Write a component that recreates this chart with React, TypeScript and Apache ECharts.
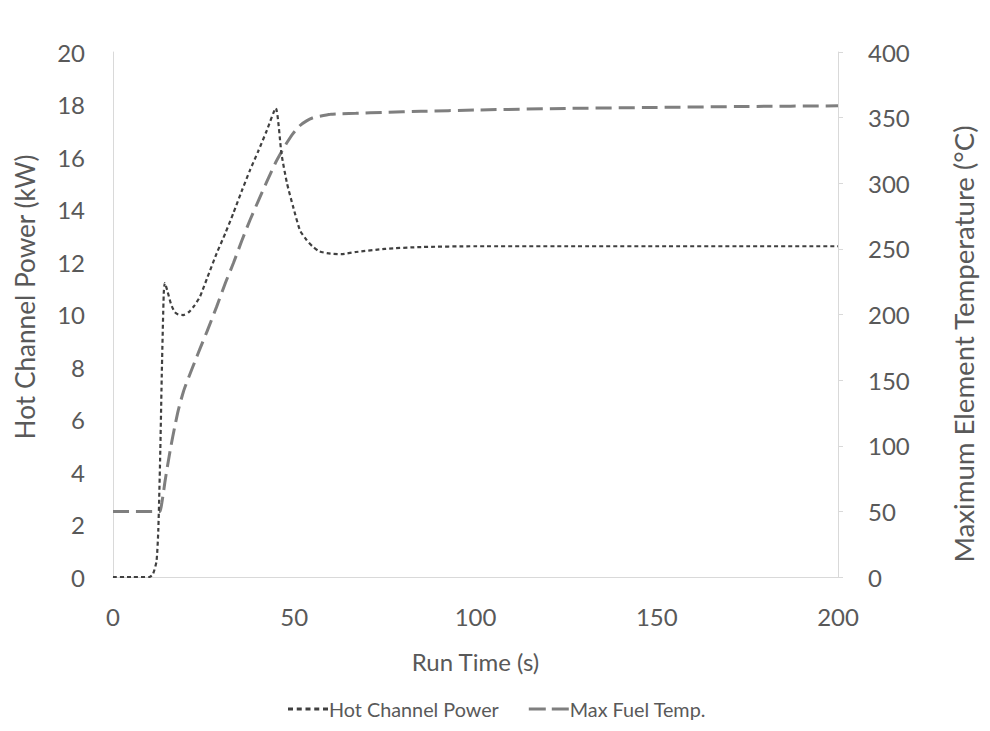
import React, { useEffect, useRef } from "react";
import * as echarts from "echarts";

const runTime = [0, 5, 10, 11, 12, 12.5, 13, 13.5, 14, 14.3, 15, 16, 17, 18, 19.4, 21, 22.5, 24, 26, 28.6, 31, 33.2, 35.5, 37.8, 40, 42.4, 44.9, 46.5, 48, 49.7, 51.6, 53.4, 55, 57, 60, 63, 67, 75, 85, 100, 125, 150, 175, 200];
const hotChannelPower = [0, 0, 0, 0.1, 0.6, 1.8, 4.5, 8, 10.8, 11.2, 10.9, 10.4, 10.1, 10.0, 9.98, 10.1, 10.35, 10.68, 11.4, 12.33, 13.1, 13.86, 14.7, 15.5, 16.2, 17.0, 17.86, 16.1, 15.0, 14.1, 13.2, 12.84, 12.6, 12.4, 12.32, 12.3, 12.38, 12.5, 12.57, 12.6, 12.6, 12.6, 12.6, 12.6];
const maxFuelTemp = [50, 50, 50, 50, 50, 50, 50, 57, 66, 72, 84, 100, 114, 127, 141, 153, 163.5, 174, 187.5, 206, 224, 239, 256, 272, 286, 301, 316, 324, 331, 338, 344, 347.5, 349.7, 351, 352.5, 353, 353.3, 354, 354.8, 355.8, 357, 357.8, 358.5, 359];

const xTicks = [0, 50, 100, 150, 200];
const leftTicks = [0, 2, 4, 6, 8, 10, 12, 14, 16, 18, 20];
const rightTicks = [0, 50, 100, 150, 200, 250, 300, 350, 400];

const xTitle = "Run Time (s)";
const leftTitle = "Hot Channel Power (kW)";
const rightTitle = "Maximum Element Temperature (°C)";

const FONT = "Lato";
const TXT = "#595959";
const AXIS = "#d9d9d9";

export default function App() {
  const ref = useRef<HTMLDivElement>(null);
  useEffect(() => {
    if (!ref.current) return;
    const chart = echarts.init(ref.current, undefined, { renderer: "svg" });
    const powerData = runTime.map((t, i) => [t, hotChannelPower[i]]);
    const tempData = runTime.map((t, i) => [t, maxFuelTemp[i]]);
    chart.setOption({
      animation: false,
      backgroundColor: "#ffffff",
      textStyle: { fontFamily: FONT },
      grid: { left: 113, right: 152, top: 52, bottom: 154, containLabel: false },
      graphic: [
        {
          type: "text",
          x: 25,
          y: 297,
          rotation: Math.PI / 2,
          style: { text: leftTitle, font: `26.2px ${FONT}`, fill: TXT, align: "center", verticalAlign: "middle" },
        },
        {
          type: "text",
          x: 963,
          y: 344,
          rotation: Math.PI / 2,
          style: { text: rightTitle, font: `27.6px ${FONT}`, fill: TXT, align: "center", verticalAlign: "middle" },
        },
      ],
      legend: {
        left: 283,
        top: 694,
        itemGap: 30,
        itemWidth: 40,
        itemHeight: 3,
        textStyle: { fontFamily: FONT, fontSize: 19.8, color: TXT, padding: [0, 0, 0, -4] },
        data: [
          { name: "Hot Channel Power", icon: "path://M0,0h5v3h-5z M8.75,0h5v3h-5z M17.5,0h5v3h-5z M26.25,0h5v3h-5z M35,0h5v3h-5z" },
          { name: "Max Fuel Temp.", icon: "path://M0,0h17v3h-17z M23,0h17v3h-17z" },
        ],
      },
      xAxis: {
        type: "value",
        min: xTicks[0],
        max: xTicks[xTicks.length - 1],
        interval: 50,
        name: xTitle,
        nameLocation: "middle",
        nameGap: 72,
        nameTextStyle: { fontFamily: FONT, fontSize: 24, color: TXT },
        axisLine: { show: true, lineStyle: { color: AXIS, width: 1 } },
        axisTick: { show: false },
        splitLine: { show: false },
        axisLabel: { fontFamily: FONT, fontSize: 24, color: TXT, margin: 27 },
      },
      yAxis: [
        {
          type: "value",
          min: leftTicks[0],
          max: leftTicks[leftTicks.length - 1],
          interval: 2,
          position: "left",
          axisLine: { show: true, lineStyle: { color: AXIS, width: 1 } },
          axisTick: { show: false },
          splitLine: { show: false },
          axisLabel: { fontFamily: FONT, fontSize: 24, color: TXT, margin: 28 },
        },
        {
          type: "value",
          min: rightTicks[0],
          max: rightTicks[rightTicks.length - 1],
          interval: 50,
          position: "right",
          axisLine: { show: true, lineStyle: { color: AXIS, width: 1 } },
          axisTick: { show: true, length: 5, lineStyle: { color: AXIS } },
          splitLine: { show: false },
          axisLabel: { fontFamily: FONT, fontSize: 24, color: TXT, margin: 30 },
        },
      ],
      series: [
        {
          name: "Hot Channel Power",
          type: "line",
          yAxisIndex: 0,
          data: powerData,
          smooth: 0.2,
          showSymbol: false,
          symbol: "none",
          color: "#404040",
          lineStyle: { color: "#404040", width: 2.2, type: [4, 3] },
          z: 3,
        },
        {
          name: "Max Fuel Temp.",
          type: "line",
          yAxisIndex: 1,
          data: tempData,
          smooth: 0.2,
          showSymbol: false,
          symbol: "none",
          color: "#7f7f7f",
          lineStyle: { color: "#7f7f7f", width: 3, type: [16, 7] },
          z: 2,
        },
      ],
    });
    return () => chart.dispose();
  }, []);
  return <div ref={ref} style={{ width: 990, height: 731, position: "absolute", left: 0, top: 0 }} />;
}
